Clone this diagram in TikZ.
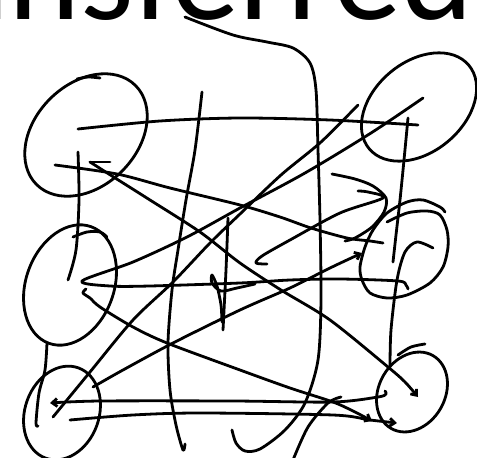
\documentclass[tikz,border=0pt]{standalone}
\usepackage{fontspec}
\setmainfont{Carlito}
\usepackage{tikz}
\usetikzlibrary{arrows.meta,positioning,shapes.geometric}

\begin{document}
\begin{tikzpicture}[x=1pt,y=-1pt,>=Latex]
  \tikzstyle{ink}=[line width=2.8pt,line cap=round,line join=round]
  \tikzstyle{blob}=[draw,ink,ellipse,inner sep=0pt]
  \tikzstyle{barb}=[-{Straight Barb[length=5pt,width=8pt]}]
  \fill[white] (0,0) rectangle (477,458);
  \clip (0,0) rectangle (477,458);
  \useasboundingbox (0,0) rectangle (477,458);
  \node[anchor=base west,inner sep=0pt,font=\fontsize{137}{137}\selectfont] (title) at (-57,19) {ansferred?};
  \node[blob,minimum width=140pt,minimum height=102pt,rotate=45] (tl) at (86,135) {};
  \node[blob,minimum width=130pt,minimum height=90pt,rotate=40] (tr) at (419,107) {};
  \node[blob,minimum width=124pt,minimum height=88pt,rotate=70] (ml) at (70,285) {};
  \node[blob,minimum width=96pt,minimum height=74pt,rotate=70] (bl) at (62,413) {};
  \node[blob,minimum width=84pt,minimum height=66pt,rotate=60] (br) at (412,392) {};
  % spiral of the middle right one
  \draw[ink] plot[smooth] coordinates {(387,222) (407,213) (427,211) (440,215) (447,230) (448,247) (443,267) (430,283) (407,295) (387,298) (370,293) (362,280) (360,267) (365,247) (373,230) (387,213) (407,202) (423,200) (440,207) (445,212)};
  % small extra strokes on the blobs
  \draw[ink] plot[smooth] coordinates {(77,79) (88,77) (100,78)};
  \draw[ink] plot[smooth] coordinates {(73,237) (87,232) (100,232) (107,237)};
  \draw[ink] plot[smooth] coordinates {(398,355) (411,347) (425,344)};
  % long strokes
  \draw[ink] plot[smooth] coordinates {(185,17) (233,35) (267,42) (293,48) (310,63) (316,90) (318,150) (320,220) (321,300) (318,360) (305,403) (285,430) (260,449) (245,451) (236,443) (232,430)};
  \draw[ink] plot[smooth] coordinates {(202,92) (195,150) (186,200) (178,250) (172,290) (168,343) (170,390) (176,425) (183,450) (185,444)};
  \draw[ink] plot[smooth] coordinates {(228,218) (226,270) (223,330)};
  \draw[ink] plot[smooth] coordinates {(255,284) (237,288) (221,291) (212,283) (212,275) (217,286) (221,305) (222,322)};
  \draw[ink] plot[smooth] coordinates {(78,129) (160,121) (240,118) (330,120) (418,125)};
  \draw[ink] plot[smooth] coordinates {(53,417) (90,372) (133,320) (173,282) (210,243) (240,214) (281,175) (321,142) (358,105)};
  \draw[ink] plot[smooth] coordinates {(423,98) (371,133) (305,173) (240,208) (187,237) (133,262) (82,281) (110,286) (150,286) (240,283) (290,280) (340,279) (398,281) (406,285) (408,289)};
  \draw[ink,barb] plot[smooth] coordinates {(86,289) (83,293) (90,298) (100,307) (133,327) (167,343) (240,370) (290,388) (333,402) (355,412) (372,421)};
  \draw[ink,barb] plot[smooth] coordinates {(93,387) (100,383) (123,370) (173,343) (240,310) (290,288) (330,268) (362,253)};
  \draw[ink,barb] plot[smooth] coordinates {(90,162) (112,176) (150,200) (200,232) (240,263) (281,290) (330,320) (388,367) (405,382) (418,397)};
  \draw[ink] (110,162) -- (90,162);
  \draw[ink] plot[smooth] coordinates {(55,165) (117,174) (170,188) (240,205) (280,217) (311,228) (347,238) (370,241) (383,243)};
  \draw[ink] plot[smooth] coordinates {(332,174) (355,179) (373,186) (386,198) (384,212) (372,227) (355,238) (345,241)};
  \draw[ink] plot[smooth] coordinates {(267,264) (256,263) (262,256) (290,240) (340,213) (383,198) (368,192) (358,191)};
  \draw[ink] plot[smooth] coordinates {(408,118) (404,160) (400,200) (396,235) (393,262)};
  \draw[ink] plot[smooth] coordinates {(390,367) (391,330) (397,280) (405,252) (417,242) (433,248)};
  \draw[ink,barb] plot[smooth] coordinates {(385,391) (386,394) (378,397) (333,402) (233,401) (100,401) (50,403)};
  \draw[ink,barb] plot[smooth] coordinates {(70,420) (133,415) (200,413) (333,415) (370,420) (397,423)};
  \draw[ink] plot[smooth] coordinates {(293,460) (308,427) (328,403) (341,397)};
  \draw[ink] plot[smooth] coordinates {(47,343) (45,370) (39,393) (36,423) (38,426)};
  \draw[ink] plot[smooth] coordinates {(78,152) (79,200) (76,250) (68,280)};
\end{tikzpicture}
\end{document}
